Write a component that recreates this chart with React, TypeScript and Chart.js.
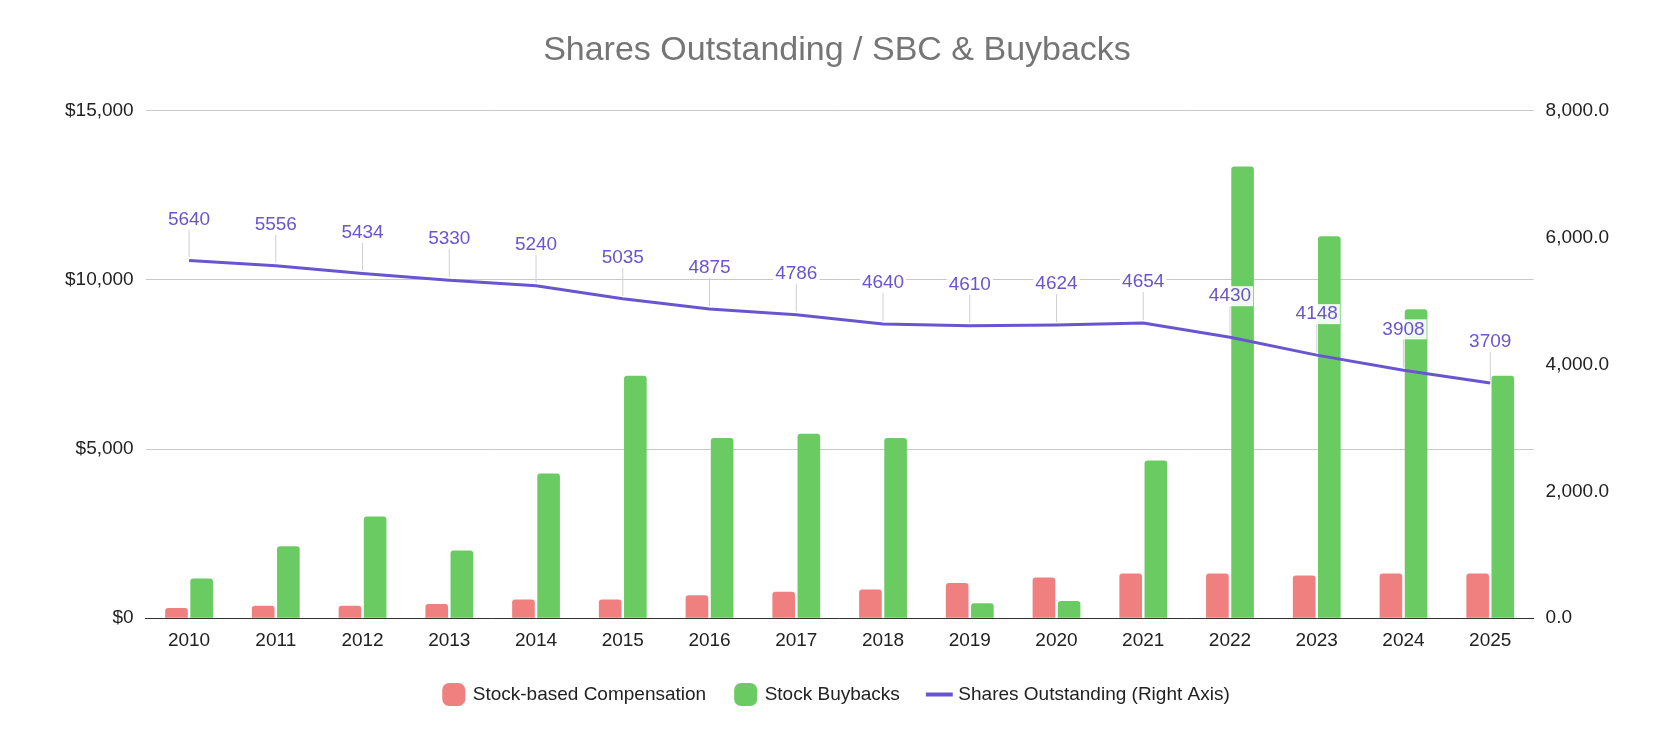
import React, { useEffect, useRef } from "react";
import { Chart, registerables } from "chart.js";
Chart.register(...registerables);

const years = ["2010","2011","2012","2013","2014","2015","2016","2017","2018","2019","2020","2021","2022","2023","2024","2025"];
const sbc = [300,370,370,420,550,550,680,780,850,1040,1200,1320,1320,1260,1320,1320];
const buybacks = [1170,2125,3010,2000,4280,7170,5330,5450,5330,440,510,4660,13350,11290,9130,7170];
const shares = [5640,5556,5434,5330,5240,5035,4875,4786,4640,4610,4624,4654,4430,4148,3908,3709];

const FONT = "'Liberation Sans', Arial, sans-serif";

const labelPlugin = {
  id: "lineLabels",
  afterDatasetsDraw(chart: any) {
    const meta = chart.getDatasetMeta(2);
    const ctx = chart.ctx;
    ctx.save();
    ctx.font = "19px " + FONT;
    ctx.textAlign = "center";
    ctx.textBaseline = "middle";
    meta.data.forEach((pt: any, i: number) => {
      const ly = pt.y - 41;
      ctx.strokeStyle = "#d0d0d0";
      ctx.lineWidth = 1;
      ctx.beginPath();
      ctx.moveTo(pt.x, ly + 10);
      ctx.lineTo(pt.x, pt.y - 3);
      ctx.stroke();
      const t = String(shares[i]);
      const w = ctx.measureText(t).width;
      ctx.fillStyle = "rgba(255,255,255,0.9)";
      ctx.fillRect(pt.x - w / 2 - 2, ly - 10, w + 4, 20);
      ctx.fillStyle = "#6a55d0";
      ctx.fillText(t, pt.x, ly);
    });
    ctx.restore();
  },
};

export default function App() {
  const ref = useRef<HTMLCanvasElement>(null);
  useEffect(() => {
    const c = new Chart(ref.current!, {
      type: "bar",
      data: {
        labels: years,
        datasets: [
          { label: "Stock-based Compensation", data: sbc, backgroundColor: "#f08080", yAxisID: "y", order: 2, borderRadius: 3, categoryPercentage: 0.58, barPercentage: 0.9 } as any,
          { label: "Stock Buybacks", data: buybacks, backgroundColor: "#6bcb63", yAxisID: "y", order: 2, borderRadius: 3, categoryPercentage: 0.58, barPercentage: 0.9 } as any,
          { type: "line", label: "Shares Outstanding (Right Axis)", data: shares, borderColor: "#6a55d0", backgroundColor: "#6a55d0", borderWidth: 3, pointRadius: 0, yAxisID: "y1", order: 1 } as any,
        ],
      },
      options: {
        animation: false,
        responsive: false,
        layout: { padding: { left: 45, right: 45, top: 14, bottom: 20 } },
        plugins: {
          title: { display: true, text: "Shares Outstanding / SBC & Buybacks", color: "#757575", font: { size: 34, family: FONT, weight: "normal" }, padding: { top: 8, bottom: 40 } },
          legend: {
            position: "bottom",
            labels: {
              color: "#222", font: { size: 19, family: FONT }, boxWidth: 24, boxHeight: 22, padding: 30,
              usePointStyle: true,
              generateLabels: (ch: any) => ch.data.datasets.map((d: any, i: number) => ({
                text: d.label, fillStyle: d.backgroundColor, strokeStyle: d.backgroundColor,
                lineWidth: i === 2 ? 4 : 0, datasetIndex: i,
                pointStyle: i === 2 ? "line" : "rectRounded", fontColor: "#222",
              })),
            },
          },
          tooltip: { enabled: false },
        },
        scales: {
          x: { grid: { display: false }, border: { color: "#333" }, ticks: { color: "#222", font: { size: 19, family: FONT } } },
          y: {
            min: 0, max: 15000, position: "left",
            ticks: { stepSize: 5000, color: "#222", font: { size: 19, family: FONT }, callback: (v: any) => "$" + Number(v).toLocaleString("en-US"), padding: 12 },
            grid: { color: "#c8c8c8", drawTicks: false }, border: { display: false },
          },
          y1: {
            min: 0, max: 8000, position: "right",
            ticks: { stepSize: 2000, color: "#222", font: { size: 19, family: FONT }, callback: (v: any) => Number(v).toLocaleString("en-US", { minimumFractionDigits: 1 }), padding: 12 },
            grid: { display: false, drawTicks: false }, border: { display: false },
          },
        },
      },
      plugins: [labelPlugin],
    });
    return () => c.destroy();
  }, []);
  return <canvas ref={ref} width={1658} height={726} />;
}
